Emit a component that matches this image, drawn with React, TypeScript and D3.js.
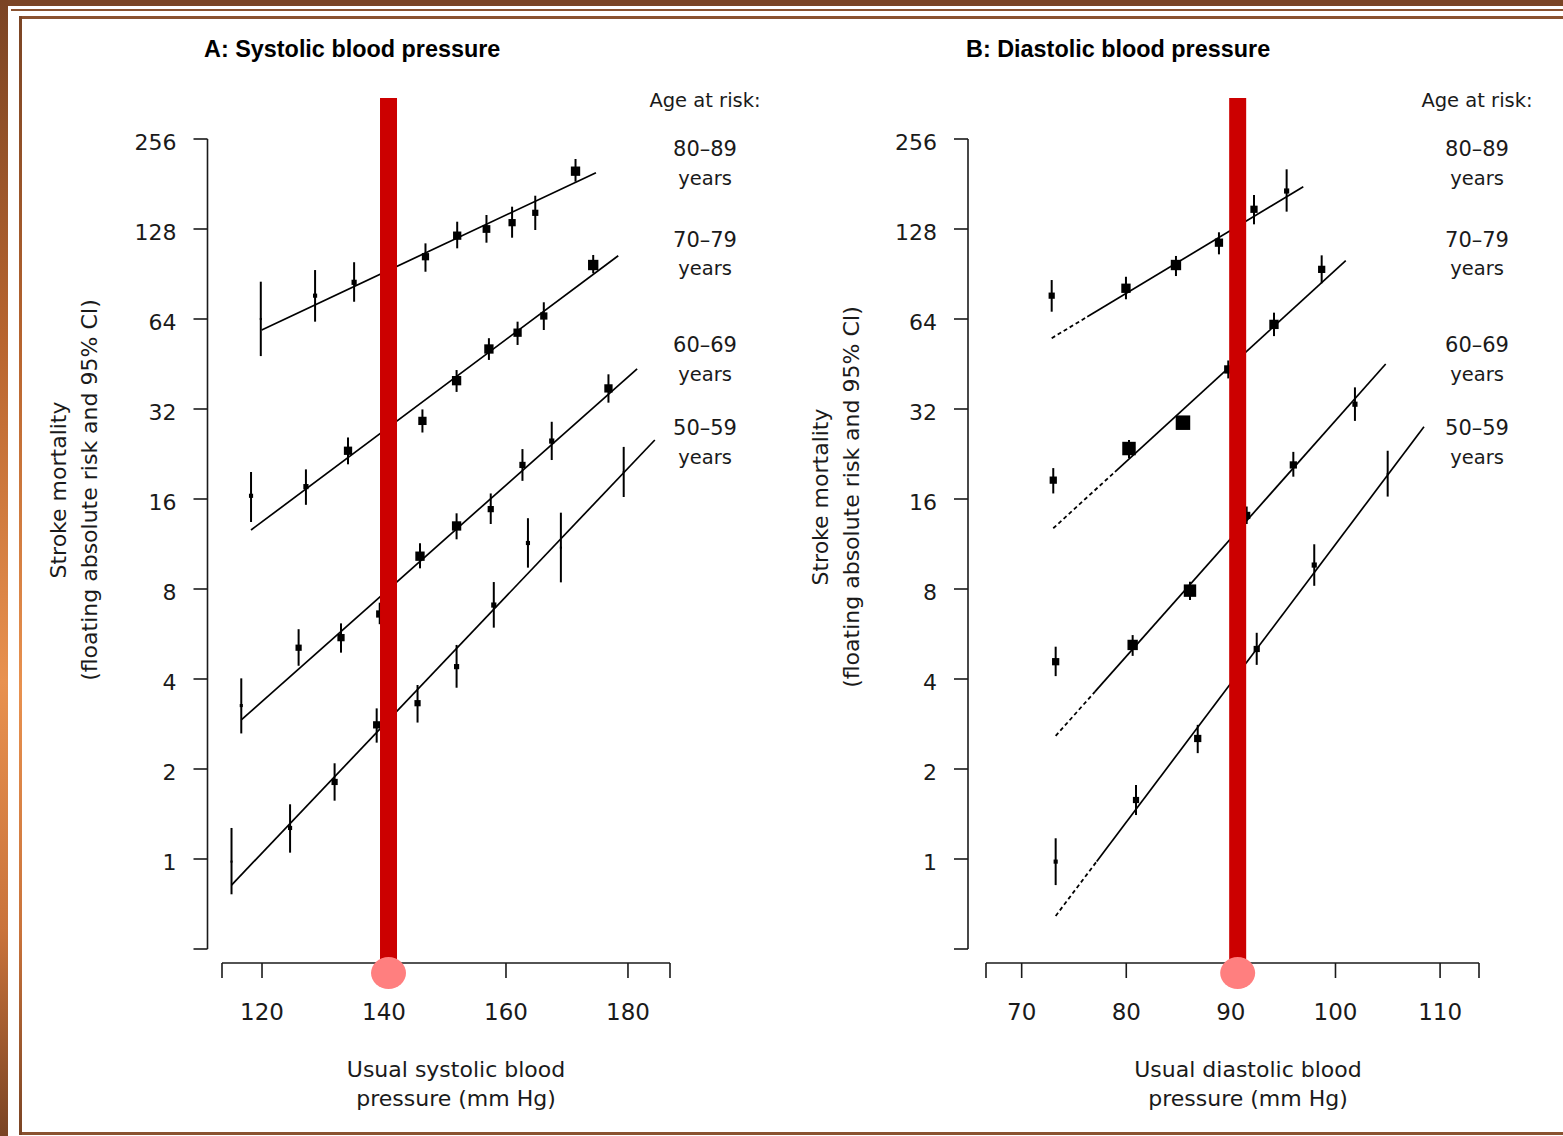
import React, { useEffect } from 'react';
import * as d3 from 'd3';

// ---------- data ----------
const yTickValues = [1, 2, 4, 8, 16, 32, 64, 128, 256];
const sbpTicks = [120, 140, 160, 180];
const dbpTicks = [70, 80, 90, 100, 110];
const ageLabels = ['80–89', '70–79', '60–69', '50–59'];

// each point: [usual BP, risk, CI low, CI high, information weight]
const sbp8089 = [
  [119.8, 64, 48.1, 85.3, 4],
  [128.7, 76.6, 62.7, 93.3, 16],
  [135.1, 84.9, 73.1, 99.1, 25],
  [146.8, 103.4, 92.1, 114.6, 49],
  [152.0, 121.6, 110.3, 135.4, 64],
  [156.8, 128, 115.2, 142.6, 56],
  [161.0, 134.4, 119.7, 152, 49],
  [164.8, 145, 127, 165.4, 36],
  [171.4, 199.8, 184.3, 219.5, 81],
];
const sbp7079 = [
  [118.2, 16.4, 13.4, 19.7, 16],
  [127.2, 17.6, 15.3, 20.1, 25],
  [134.1, 23.2, 20.9, 25.7, 64],
  [146.3, 29.2, 26.7, 31.9, 64],
  [151.9, 39.8, 36.5, 43.2, 81],
  [157.2, 50.8, 46.7, 55.2, 81],
  [161.9, 57.6, 52.4, 62.7, 64],
  [166.2, 65.5, 58.8, 72.8, 49],
  [174.3, 97, 91, 104.8, 100],
];
const sbp6069 = [
  [116.6, 3.26, 2.63, 4.02, 9],
  [126.0, 5.09, 4.43, 5.87, 36],
  [132.95, 5.5, 4.9, 6.14, 49],
  [139.3, 6.6, 6.1, 7.2, 49],
  [145.9, 10.3, 9.38, 11.38, 81],
  [151.9, 13.0, 11.73, 14.33, 81],
  [157.5, 14.8, 13.2, 16.7, 36],
  [162.7, 20.8, 18.4, 23.5, 36],
  [167.5, 25.0, 21.6, 29.0, 25],
  [176.8, 37.5, 33.6, 41.8, 64],
];
const sbp5059 = [
  [115.0, 0.98, 0.762, 1.27, 4],
  [124.6, 1.27, 1.05, 1.524, 16],
  [131.9, 1.81, 1.567, 2.09, 36],
  [138.8, 2.81, 2.45, 3.19, 49],
  [145.5, 3.32, 2.86, 3.82, 36],
  [151.9, 4.4, 3.74, 5.2, 25],
  [158.0, 7.07, 5.94, 8.44, 25],
  [163.6, 11.4, 9.43, 13.8, 16],
  [169.0, 11.0, 8.42, 14.4, 4],
  [179.3, 19.7, 16.25, 23.9, 4],
];
// fitted lines: [x start, risk start, x end, risk end]
const sbpFit8089 = [119.95, 58.8, 174.75, 197.5];
const sbpFit7079 = [118.2, 12.6, 178.4, 104.2];
const sbpFit6069 = [116.6, 2.92, 181.5, 43.6];
const sbpFit5059 = [115.0, 0.818, 184.4, 25.2];

const dbp8089 = [
  [72.87, 76.6, 67.7, 86.4, 36],
  [79.97, 81.1, 74.5, 88.6, 81],
  [84.75, 97, 89.1, 104, 100],
  [88.86, 115.2, 105.3, 124.8, 64],
  [92.21, 149, 132.7, 166.3, 49],
  [95.33, 171.5, 146.3, 202.7, 25],
];
const dbp7079 = [
  [73.02, 18.5, 16.7, 20.3, 49],
  [80.26, 23.6, 21.9, 25.2, 169],
  [85.42, 28.8, 28.0, 29.7, 196],
  [89.75, 43.4, 40.5, 46.5, 64],
  [94.12, 61.4, 56.1, 67.2, 81],
  [98.68, 93.8, 84.3, 104.5, 49],
];
const dbp6069 = [
  [73.25, 4.57, 4.09, 5.13, 49],
  [80.61, 5.2, 4.78, 5.61, 100],
  [86.09, 7.9, 7.35, 8.46, 144],
  [91.51, 14.1, 13.2, 15.1, 49],
  [95.97, 20.8, 19.0, 23.0, 49],
  [101.86, 33.2, 29.2, 37.8, 25],
];
const dbp5059 = [
  [73.25, 0.98, 0.818, 1.173, 16],
  [80.93, 1.575, 1.403, 1.768, 36],
  [86.83, 2.53, 2.26, 2.81, 49],
  [92.47, 5.04, 4.46, 5.71, 36],
  [97.97, 9.62, 8.2, 11.29, 25],
  [104.99, 19.4, 16.3, 23.2, 4],
];
// [x start, risk start, x end, risk end, x where dashed part ends]
const dbpFit8089 = [72.87, 55.2, 96.92, 177.3, 76.27];
const dbpFit7079 = [73.02, 12.77, 100.98, 100.3, 78.92];
const dbpFit6069 = [73.25, 2.58, 104.8, 45.25, 77.01];
const dbpFit5059 = [73.25, 0.645, 108.46, 27.9, 77.17];

const sbpTarget = 140.74;
const dbpTarget = 90.65;

// ---------- layout ----------
const W = 1563;
const H = 1136;
const FONT = '"DejaVu Sans", sans-serif';
const BOLD = '"Liberation Sans", Arial, sans-serif';
const INK = '#1a1a1a';

const y = d3.scaleLog().base(2).domain([0.5, 256]).range([949, 139]);
const sizeScale = d3.scaleSqrt().domain([0, 196]).range([0, 14.5]);

type Panel = {
  title: string;
  titleX: number;
  x: d3.ScaleLinear<number, number>;
  ticks: number[];
  yAxisX: number;
  series: number[][][];
  fits: number[][];
  target: number;
  xTitle: string[];
  xTitleX: number;
  yLabX: [number, number];
  yLabY: number;
  legendX: number;
};

const panels: Panel[] = [
  {
    title: 'A: Systolic blood pressure',
    titleX: 204,
    x: d3.scaleLinear().domain([113.44, 186.89]).range([222, 670]),
    ticks: sbpTicks,
    yAxisX: 207.5,
    series: [sbp8089, sbp7079, sbp6069, sbp5059],
    fits: [sbpFit8089, sbpFit7079, sbpFit6069, sbpFit5059],
    target: sbpTarget,
    xTitle: ['Usual systolic blood', 'pressure (mm Hg)'],
    xTitleX: 456,
    yLabX: [66, 97],
    yLabY: 490,
    legendX: 705,
  },
  {
    title: 'B: Diastolic blood pressure',
    titleX: 966,
    x: d3.scaleLinear().domain([66.59, 113.72]).range([986, 1479]),
    ticks: dbpTicks,
    yAxisX: 968,
    series: [dbp8089, dbp7079, dbp6069, dbp5059],
    fits: [dbpFit8089, dbpFit7079, dbpFit6069, dbpFit5059],
    target: dbpTarget,
    xTitle: ['Usual diastolic blood', 'pressure (mm Hg)'],
    xTitleX: 1248,
    yLabX: [828, 859],
    yLabY: 497,
    legendX: 1477,
  },
];

const legendBaselines = [
  [156, 185],
  [247, 275],
  [352, 381],
  [435, 464],
];

function FitLine({ fit, x }: { fit: number[]; x: d3.ScaleLinear<number, number> }) {
  const [x0, r0, x1, r1, dashTo] = fit;
  const logFit = d3.scaleLinear().domain([x0, x1]).range([Math.log2(r0), Math.log2(r1)]);
  const rAt = (v: number) => Math.pow(2, logFit(v));
  const line = d3
    .line<number>()
    .x((v) => x(v))
    .y((v) => y(rAt(v)));
  if (dashTo === undefined) {
    return <path d={line([x0, x1]) || ''} stroke="#000" strokeWidth={1.7} fill="none" />;
  }
  return (
    <g>
      <path d={line([x0, dashTo]) || ''} stroke="#000" strokeWidth={1.8} fill="none" strokeDasharray="4 3" />
      <path d={line([dashTo, x1]) || ''} stroke="#000" strokeWidth={1.7} fill="none" />
    </g>
  );
}

function PanelView({ p }: { p: Panel }) {
  const x = p.x;
  const [r0, r1] = x.range();
  const axisY = 963;
  const bar = 17;
  return (
    <g>
      {/* title */}
      <text x={p.titleX} y={57} fontFamily={BOLD} fontWeight="bold" fontSize={23.4} fill="#000">
        {p.title}
      </text>

      {/* y axis */}
      <g>
        <line x1={p.yAxisX} x2={p.yAxisX} y1={y(256)} y2={y(0.5)} stroke={INK} strokeWidth={1.6} />
        {[0.5, ...yTickValues].map((v) => (
          <line key={v} x1={p.yAxisX - 14} x2={p.yAxisX} y1={y(v)} y2={y(v)} stroke={INK} strokeWidth={1.6} />
        ))}
        {yTickValues.map((v) => (
          <text
            key={v}
            x={p.yAxisX - 31}
            y={y(v) + 11}
            textAnchor="end"
            fontFamily={FONT}
            fontSize={22}
            fill={INK}
          >
            {v}
          </text>
        ))}
      </g>

      {/* y axis label */}
      <text
        transform={`translate(${p.yLabX[0]},${p.yLabY}) rotate(-90)`}
        textAnchor="middle"
        fontFamily={FONT}
        fontSize={22}
        fill={INK}
      >
        Stroke mortality
      </text>
      <text
        transform={`translate(${p.yLabX[1]},${p.yLabY}) rotate(-90)`}
        textAnchor="middle"
        fontFamily={FONT}
        fontSize={22}
        fill={INK}
      >
        (floating absolute risk and 95% CI)
      </text>

      {/* x axis */}
      <g>
        <line x1={r0} x2={r1} y1={axisY} y2={axisY} stroke={INK} strokeWidth={1.6} />
        {[r0, r1].map((px, i) => (
          <line key={'e' + i} x1={px} x2={px} y1={axisY} y2={axisY + 15} stroke={INK} strokeWidth={1.6} />
        ))}
        {p.ticks.map((v) => (
          <line key={v} x1={x(v)} x2={x(v)} y1={axisY} y2={axisY + 15} stroke={INK} strokeWidth={1.6} />
        ))}
        {p.ticks.map((v) => (
          <text key={'t' + v} x={x(v)} y={1020} textAnchor="middle" fontFamily={FONT} fontSize={23} fill={INK}>
            {v}
          </text>
        ))}
      </g>
      {p.xTitle.map((t, i) => (
        <text
          key={t}
          x={p.xTitleX}
          y={1077 + i * 29}
          textAnchor="middle"
          fontFamily={FONT}
          fontSize={22}
          fill={INK}
        >
          {t}
        </text>
      ))}

      {/* legend */}
      <text x={p.legendX} y={107} textAnchor="middle" fontFamily={FONT} fontSize={19.5} fill={INK}>
        Age at risk:
      </text>
      {ageLabels.map((a, i) => (
        <g key={a}>
          <text x={p.legendX} y={legendBaselines[i][0]} textAnchor="middle" fontFamily={FONT} fontSize={21} fill={INK}>
            {a}
          </text>
          <text x={p.legendX} y={legendBaselines[i][1]} textAnchor="middle" fontFamily={FONT} fontSize={19.5} fill={INK}>
            years
          </text>
        </g>
      ))}

      {/* fitted lines */}
      {p.fits.map((f, i) => (
        <FitLine key={i} fit={f} x={x} />
      ))}

      {/* points */}
      {p.series.map((s, si) => (
        <g key={si}>
          {s.map((d, i) => {
            const cx = x(d[0]);
            const cy = y(d[1]);
            const side = sizeScale(d[4]);
            return (
              <g key={i}>
                <line x1={cx} x2={cx} y1={y(d[2])} y2={y(d[3])} stroke="#000" strokeWidth={2} />
                <rect x={cx - side / 2} y={cy - side / 2} width={side} height={side} fill="#000" />
              </g>
            );
          })}
        </g>
      ))}

      {/* target bar */}
      <rect x={x(p.target) - bar / 2} y={98} width={bar} height={axisY - 98} fill="#CC0000" />
      <ellipse cx={x(p.target)} cy={973} rx={17.5} ry={16} fill="#FF7F7F" />
    </g>
  );
}

export default function App() {
  useEffect(() => {
    document.body.style.margin = '0';
    document.body.style.overflow = 'hidden';
  }, []);
  return (
    <svg
      width={W}
      height={H}
      viewBox={`0 0 ${W} ${H}`}
      style={{ position: 'absolute', left: 0, top: 0, background: '#fff' }}
    >
      <defs>
        <linearGradient id="sideGrad" x1="0" y1="0" x2="0" y2="1">
          <stop offset="0" stopColor="#7a4424" />
          <stop offset="0.3" stopColor="#b8652f" />
          <stop offset="0.6" stopColor="#e8914f" />
          <stop offset="0.82" stopColor="#c9733b" />
          <stop offset="1" stopColor="#7a4424" />
        </linearGradient>
      </defs>
      <rect x={0} y={0} width={W} height={H} fill="#fff" />
      {/* frame */}
      <rect x={0} y={0} width={W} height={6} fill="#7b4526" />
      <rect x={0} y={0} width={8} height={H} fill="url(#sideGrad)" />
      <line x1={11} x2={W} y1={10} y2={10} stroke="#8a5230" strokeWidth={2} />
      <line x1={11.8} x2={11.8} y1={9} y2={H} stroke="url(#sideGrad)" strokeWidth={1.6} />
      <line x1={19} x2={W} y1={17.5} y2={17.5} stroke="#8a5230" strokeWidth={3} />
      <rect x={19} y={1132} width={W - 19} height={3} fill="#8a5230" />
      <rect x={19} y={16} width={3} height={1119} fill="url(#sideGrad)" />

      {panels.map((p) => (
        <PanelView key={p.title} p={p} />
      ))}
    </svg>
  );
}
